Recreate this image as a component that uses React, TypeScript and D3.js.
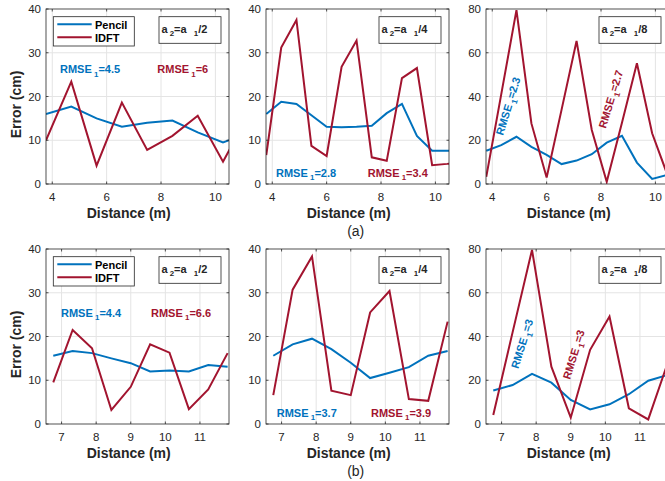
import React, { useRef, useEffect } from 'react';
import * as d3 from 'd3';

// distances (m)
const xTopA = [3.77, 4.70, 5.63, 6.56, 7.49, 8.42, 9.35, 10.28, 11.21];
const xTopB = [3.78, 4.33, 4.89, 5.44, 6.0, 6.55, 7.1, 7.66, 8.21, 8.77, 9.32, 9.88, 10.43, 10.99];
const xBottom = [6.76, 7.32, 7.88, 8.44, 9.0, 9.56, 10.12, 10.68, 11.24, 11.8];

// errors (cm), row (a)
const pencilA2 = [16.0, 17.7, 15.0, 13.1, 14.0, 14.5, 11.8, 9.5, 11.6];
const idftA2 = [10.0, 23.4, 4.2, 18.6, 7.8, 11.0, 15.6, 5.1, 15.8];
const pencilA4 = [16.0, 18.8, 18.3, 15.7, 13.1, 13.0, 13.1, 13.3, 16.2, 18.3, 11.0, 7.6, 7.6, 7.6];
const idftA4 = [6.6, 31.2, 37.5, 8.7, 6.4, 26.8, 32.8, 6.1, 5.3, 24.2, 26.5, 4.3, 4.6, 5.0];
const pencilA8 = [15.2, 17.8, 21.6, 17.0, 13.3, 9.1, 10.7, 13.6, 18.9, 22.0, 9.8, 2.3, 4.1, 6.0];
const idftA8 = [3.3, 41.0, 79.5, 27.7, 3.0, 34.0, 65.4, 24.7, 1.0, 28.0, 55.2, 23.2, 4.6, 20.0];

// errors (cm), row (b)
const pencilB2 = [15.6, 16.7, 16.2, 15.0, 13.9, 12.0, 12.2, 12.0, 13.5, 13.1];
const idftB2 = [9.5, 21.5, 17.3, 3.2, 8.5, 18.2, 16.3, 3.4, 7.9, 16.2];
const pencilB4 = [15.6, 18.2, 19.5, 17.1, 14.0, 10.5, 11.7, 13.0, 15.6, 16.7];
const idftB4 = [6.6, 30.7, 38.3, 7.6, 6.6, 25.5, 30.4, 5.7, 5.3, 23.4];
const pencilB8 = [15.3, 17.8, 22.9, 18.9, 11.0, 6.7, 9.0, 13.6, 19.8, 22.4];
const idftB8 = [4.1, 42.0, 79.6, 26.2, 2.9, 33.9, 49.1, 7.2, 2.1, 27.8];

const xTicksTop = [4, 6, 8, 10];
const xTicksBottom = [7, 8, 9, 10, 11];
const yTicks40 = [0, 10, 20, 30, 40];
const yTicks80 = [0, 20, 40, 60, 80];

const seriesNames = ['Pencil', 'IDFT'];
const ratios = ['2', '4', '8'];
const rmseA = [['4.5', '6'], ['2.8', '3.4'], ['2.3', '2.7']];
const rmseB = [['4.4', '6.6'], ['3.7', '3.9'], ['3', '3']];
const rowLabels = ['(a)', '(b)'];

const BLUE = '#0072BD';
const RED = '#A2142F';
const INK = '#262626';
const FONT = '"Liberation Sans", Arial, Helvetica, sans-serif';

const PW = 183;
const PH = 175;

const App = () => {
  const svgRef = useRef(null);

  useEffect(() => {
    const svg = d3.select(svgRef.current);
    svg.selectAll('*').remove();
    svg.attr('font-family', FONT);

    const panels = [
      { left: 46, top: 9, xs: xTopA, dom: [3.77, 10.5], xt: xTicksTop, yMax: 40, yt: yTicks40, p: pencilA2, q: idftA2, r: 0, rm: rmseA[0],
        pos: [[14, 64.3, 0], [111.3, 64.3, 0]], legend: true, row: 0 },
      { left: 266, top: 9, xs: xTopB, dom: [3.77, 10.5], xt: xTicksTop, yMax: 40, yt: yTicks40, p: pencilA4, q: idftA4, r: 1, rm: rmseA[1],
        pos: [[10, 167.7, 0], [101.7, 167.7, 0]], legend: false, row: 0 },
      { left: 486, top: 9, xs: xTopB, dom: [3.77, 10.5], xt: xTicksTop, yMax: 80, yt: yTicks80, p: pencilA8, q: idftA8, r: 2, rm: rmseA[2],
        pos: [[17, 127, -73], [119.7, 120, -73]], legend: false, row: 0 },
      { left: 46, top: 249, xs: xBottom, dom: [6.55, 11.84], xt: xTicksBottom, yMax: 40, yt: yTicks40, p: pencilB2, q: idftB2, r: 0, rm: rmseB[0],
        pos: [[15, 67.7, 0], [105, 67.7, 0]], legend: true, row: 1 },
      { left: 266, top: 249, xs: xBottom, dom: [6.55, 11.84], xt: xTicksBottom, yMax: 40, yt: yTicks40, p: pencilB4, q: idftB4, r: 1, rm: rmseB[1],
        pos: [[10.7, 167.7, 0], [105, 167.7, 0]], legend: false, row: 1 },
      { left: 486, top: 249, xs: xBottom, dom: [6.55, 11.84], xt: xTicksBottom, yMax: 80, yt: yTicks80, p: pencilB8, q: idftB8, r: 2, rm: rmseB[2],
        pos: [[32.3, 120.3, -73], [84, 131, -73]], legend: false, row: 1 },
    ];

    // text with subscripts, parts: [text, isSub]
    const subText = (g, parts, x, y, color, size, rot) => {
      const t = g.append('text')
        .attr('transform', `translate(${x},${y}) rotate(${rot})`)
        .attr('fill', color)
        .attr('font-size', size)
        .attr('font-weight', 'bold');
      let shifted = false;
      parts.forEach(([s, sub, dx]) => {
        const ts = t.append('tspan').text(s);
        if (sub && !shifted) { ts.attr('dy', 3.6); shifted = true; }
        if (!sub && shifted) { ts.attr('dy', -3.6); shifted = false; }
        if (sub) ts.attr('font-size', size * 0.72);
        if (dx) ts.attr('dx', dx);
      });
      return t;
    };

    panels.forEach((pn, i) => {
      const x = d3.scaleLinear().domain(pn.dom).range([pn.left, pn.left + PW]);
      const y = d3.scaleLinear().domain([0, pn.yMax]).range([pn.top + PH, pn.top]);
      const g = svg.append('g');

      g.append('rect')
        .attr('x', pn.left).attr('y', pn.top).attr('width', PW).attr('height', PH)
        .attr('fill', '#fff');

      // grid
      g.selectAll('.gx').data(pn.xt).join('line')
        .attr('x1', d => x(d)).attr('x2', d => x(d))
        .attr('y1', pn.top).attr('y2', pn.top + PH)
        .attr('stroke', '#e4e4e4').attr('stroke-width', 1);
      g.selectAll('.gy').data(pn.yt.slice(1, -1)).join('line')
        .attr('x1', pn.left).attr('x2', pn.left + PW)
        .attr('y1', d => y(d)).attr('y2', d => y(d))
        .attr('stroke', '#e4e4e4').attr('stroke-width', 1);

      // data lines
      const clipId = `clip${i}`;
      g.append('clipPath').attr('id', clipId).append('rect')
        .attr('x', pn.left).attr('y', pn.top).attr('width', PW).attr('height', PH);
      const line = d3.line().x(d => x(d[0])).y(d => y(d[1]));
      [[pn.p, BLUE], [pn.q, RED]].forEach(([vals, c]) => {
        g.append('path')
          .datum(pn.xs.map((v, k) => [v, vals[k]]).filter(d => d[1] !== undefined))
          .attr('d', line)
          .attr('fill', 'none')
          .attr('stroke', c)
          .attr('stroke-width', 2)
          .attr('stroke-linejoin', 'miter')
          .attr('clip-path', `url(#${clipId})`);
      });

      // box and inward ticks
      g.append('rect')
        .attr('x', pn.left).attr('y', pn.top).attr('width', PW).attr('height', PH)
        .attr('fill', 'none').attr('stroke', INK).attr('stroke-width', 0.8);
      pn.xt.forEach(t => {
        g.append('line').attr('x1', x(t)).attr('x2', x(t)).attr('y1', pn.top + PH).attr('y2', pn.top + PH - 2.5)
          .attr('stroke', INK).attr('stroke-width', 0.8);
        g.append('line').attr('x1', x(t)).attr('x2', x(t)).attr('y1', pn.top).attr('y2', pn.top + 2.5)
          .attr('stroke', INK).attr('stroke-width', 0.8);
      });
      pn.yt.forEach(t => {
        g.append('line').attr('x1', pn.left).attr('x2', pn.left + 2.5).attr('y1', y(t)).attr('y2', y(t))
          .attr('stroke', INK).attr('stroke-width', 0.8);
        g.append('line').attr('x1', pn.left + PW).attr('x2', pn.left + PW - 2.5).attr('y1', y(t)).attr('y2', y(t))
          .attr('stroke', INK).attr('stroke-width', 0.8);
      });

      // tick labels
      g.selectAll('.xl').data(pn.xt).join('text')
        .attr('x', d => x(d)).attr('y', pn.top + PH + 17)
        .attr('text-anchor', 'middle').attr('font-size', 11.5).attr('fill', INK)
        .text(d => d);
      g.selectAll('.yl').data(pn.yt).join('text')
        .attr('x', pn.left - 5).attr('y', d => y(d)).attr('dy', '0.36em')
        .attr('text-anchor', 'end').attr('font-size', 11.5).attr('fill', INK)
        .text(d => d);

      // axis labels
      g.append('text')
        .attr('x', pn.left + 82.7).attr('y', pn.top + PH + 34)
        .attr('text-anchor', 'middle').attr('font-size', 14).attr('font-weight', 'bold').attr('fill', INK)
        .text('Distance (m)');
      if (pn.left < 100) {
        g.append('text')
          .attr('transform', `translate(20.5,${pn.top + 95.5}) rotate(-90)`)
          .attr('text-anchor', 'middle').attr('font-size', 14).attr('font-weight', 'bold').attr('fill', INK)
          .text('Error (cm)');
      }

      // RMSE annotations
      [BLUE, RED].forEach((c, k) => {
        const [px, py, rot] = pn.pos[k];
        subText(g, [['RMSE', false], [' 1', true], ['=' + pn.rm[k], false]], pn.left + px, pn.top + py, c, 11, rot);
      });

      // ratio box
      const bx = pn.left + PW - 70;
      const by = pn.top + 7.7;
      g.append('rect').attr('x', bx).attr('y', by).attr('width', 62).attr('height', 26.6)
        .attr('fill', '#fff').attr('stroke', INK).attr('stroke-width', 0.8);
      subText(g, [['a', false], [' 2', true], ['=a', false], [' 1', true, 5], ['/' + ratios[pn.r], false]],
        bx + 2.4, by + 16, INK, 11, 0);

      // legend
      if (pn.legend) {
        const lx = pn.left + 7.3;
        const ly = pn.top + 7.7;
        g.append('rect').attr('x', lx).attr('y', ly).attr('width', 81).attr('height', 29.3)
          .attr('fill', '#fff').attr('stroke', INK).attr('stroke-width', 0.8);
        seriesNames.forEach((nm, k) => {
          const yy = ly + 7.6 + k * 13;
          g.append('line').attr('x1', lx + 4).attr('x2', lx + 38.4).attr('y1', yy).attr('y2', yy)
            .attr('stroke', k === 0 ? BLUE : RED).attr('stroke-width', 2);
          g.append('text').attr('x', lx + 41.7).attr('y', yy + 4.2)
            .attr('font-size', 11).attr('font-weight', 'bold').attr('fill', '#000')
            .text(nm);
        });
      }
    });

    rowLabels.forEach((lb, r) => {
      svg.append('text')
        .attr('x', 355.7).attr('y', 236 + r * 240)
        .attr('text-anchor', 'middle').attr('font-size', 14).attr('fill', INK)
        .text(lb);
    });
  }, []);

  return (
    <div style={{ position: 'absolute', left: 0, top: 0 }}>
      <svg ref={svgRef} width={665} height={481} style={{ display: 'block', background: '#fff' }}></svg>
    </div>
  );
};

export default App;
